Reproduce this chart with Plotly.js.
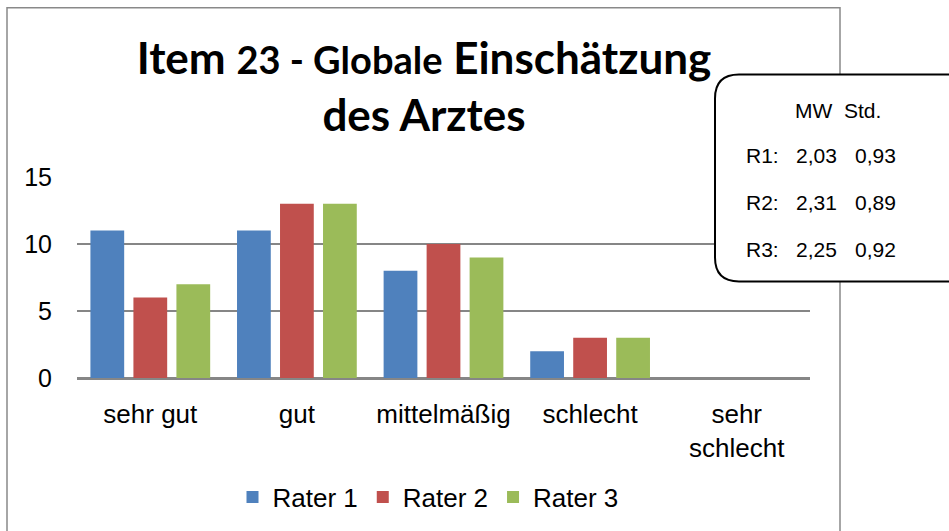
<!DOCTYPE html>
<html>
<head>
<meta charset="utf-8">
<script src="https://cdn.plot.ly/plotly-3.0.1.min.js"></script>
<style>html,body{margin:0;padding:0;background:#fff;}#chart{width:949px;height:531px;}</style>
</head>
<body>
<div id="chart"></div>
<script>
const categories = ["sehr gut", "gut", "mittelmäßig", "schlecht", "sehr<br>schlecht"];
const seriesNames = ["Rater 1", "Rater 2", "Rater 3"];
const rater1 = [11, 11, 8, 2, 0];
const rater2 = [6, 13, 10, 3, 0];
const rater3 = [7, 13, 9, 3, 0];
const colors = ["#4F81BD", "#C0504D", "#9BBB59"];
const statHeader = ["MW", "Std."];
const statLabels = ["R1:", "R2:", "R3:"];
const statMW = ["2,03", "2,31", "2,25"];
const statStd = ["0,93", "0,89", "0,92"];

const W = 949, H = 531;
const L = 77, R = 810, T = 177, B = 379;
const px = x => (x - L) / (R - L);
const py = y => (B - y) / (B - T);

const values = [rater1, rater2, rater3];
const traces = values.map((v, i) => ({
  type: "bar", x: categories, y: v, name: seriesNames[i],
  marker: {color: colors[i]}
}));

const box = {l: 715, r: 975, t: 74, b: 282, rad: 24};
const boxPath = [
  `M${px(box.l + box.rad)},${py(box.t)}`,
  `L${px(box.r)},${py(box.t)}`,
  `L${px(box.r)},${py(box.b)}`,
  `L${px(box.l + box.rad)},${py(box.b)}`,
  `Q${px(box.l)},${py(box.b)} ${px(box.l)},${py(box.b - box.rad)}`,
  `L${px(box.l)},${py(box.t + box.rad)}`,
  `Q${px(box.l)},${py(box.t)} ${px(box.l + box.rad)},${py(box.t)}`,
  "Z"
].join(" ");

const statFont = {family: "Liberation Sans, Arial, sans-serif", size: 21, color: "#000"};
const ann = [];
const rowY = [155, 203, 250];
ann.push({text: statHeader[0], x: px(793), y: py(110)});
ann.push({text: statHeader[1], x: px(842), y: py(110)});
for (let i = 0; i < 3; i++) {
  ann.push({text: statLabels[i], x: px(744), y: py(rowY[i])});
  ann.push({text: statMW[i], x: px(794), y: py(rowY[i])});
  ann.push({text: statStd[i], x: px(853), y: py(rowY[i])});
}
const annotations = ann.map(a => Object.assign({
  xref: "paper", yref: "paper", xanchor: "left", yanchor: "middle",
  showarrow: false, font: statFont
}, a));

const layout = {
  width: W, height: H,
  margin: {l: L, r: W - R, t: T, b: H - B, pad: 0},
  paper_bgcolor: "#fff", plot_bgcolor: "#fff",
  showlegend: true,
  bargap: 0.12, bargroupgap: 0.215,
  title: {
    text: "Item <span style='font-size:38px'>23 - Globale</span> Einschätzung<br>des Arztes",
    x: 424 / W, xanchor: "center", xref: "container",
    y: 1 - 74 / H, yanchor: "top", yref: "container",
    font: {family: "Lato, Open Sans, sans-serif", size: 44, color: "#000", weight: "bold"}
  },
  xaxis: {
    showgrid: false, showline: true, linecolor: "#868686", linewidth: 1.5,
    ticks: "", ticklabelstandoff: 12,
    tickfont: {family: "Liberation Sans, Arial, sans-serif", size: 26, color: "#000"}
  },
  yaxis: {
    range: [0, 15], dtick: 5, tick0: 0, showgrid: true, gridcolor: "#868686", gridwidth: 1.5,
    zeroline: true, zerolinecolor: "#868686", zerolinewidth: 1.5, showline: false,
    ticks: "", ticklabelstandoff: 24,
    tickfont: {family: "Liberation Sans, Arial, sans-serif", size: 25, color: "#000"}
  },
  legend: {
    orientation: "h", x: px(428), xanchor: "center", y: py(497), yanchor: "middle",
    font: {family: "Liberation Sans, Arial, sans-serif", size: 26, color: "#000"},
    traceorder: "normal", itemwidth: 30
  },
  shapes: [
    {type: "rect", xref: "paper", yref: "paper", x0: px(7), x1: px(840), y0: py(545), y1: py(7),
     line: {color: "#898989", width: 1.5}, fillcolor: "rgba(0,0,0,0)", layer: "above"},
    {type: "path", xref: "paper", yref: "paper", path: boxPath,
     line: {color: "#000", width: 2}, fillcolor: "#fff", layer: "above"}
  ],
  annotations: annotations
};

Plotly.newPlot("chart", traces, layout, {displayModeBar: false, staticPlot: true});
</script>
</body>
</html>
